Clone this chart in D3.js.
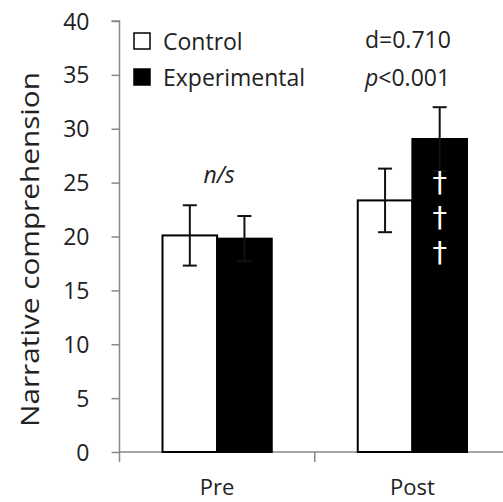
<!DOCTYPE html>
<html>
<head>
<meta charset="utf-8">
<script src="https://cdn.jsdelivr.net/npm/d3@7"></script>
<style>
  html, body { margin: 0; padding: 0; background: #fff; }
  svg { display: block; }
  text { font-family: "Open Sans", "Noto Sans", sans-serif; fill: #222; }
</style>
</head>
<body>
<svg id="chart" width="503" height="502"></svg>
<script>
const categories = ["Pre", "Post"];
const series = ["Control", "Experimental"];
const controlValues = [20.1, 23.35];
const experimentalValues = [19.8, 29.05];
const controlErrors = [2.8, 2.95];
const experimentalErrors = [2.1, 2.95];
const yTicks = [0, 5, 10, 15, 20, 25, 30, 35, 40];
const yTitle = "Narrative comprehension";
const nsLabel = "n/s";
const effectLabel = "d=0.710";
const pPrefix = "p";
const pRest = "<0.001";
const daggers = ["†", "†", "†"];

const data = categories.map((c, i) => ({
  category: c,
  values: [
    { series: series[0], value: controlValues[i], err: controlErrors[i] },
    { series: series[1], value: experimentalValues[i], err: experimentalErrors[i] }
  ]
}));

const svg = d3.select("#chart");
const axisX = 119.5, axisY = 452;

const y = d3.scaleLinear().domain([0, 40]).range([axisY, 21]);
const x0 = d3.scaleBand().domain(categories).range([axisX, 510]).paddingInner(0).paddingOuter(0);
const groupPad = 43;
const x1 = d3.scaleBand().domain(series).range([0, x0.bandwidth() - 2 * groupPad]).padding(0);
const fill = d3.scaleOrdinal().domain(series).range(["#ffffff", "#000000"]);

// Y axis
const yAxis = d3.axisLeft(y).tickValues(yTicks).tickSize(8).tickPadding(0).tickFormat(d3.format("d"));
const gy = svg.append("g").attr("transform", `translate(${axisX},0)`).call(yAxis);
gy.select(".domain").attr("stroke", "#888").attr("stroke-width", 1.5).attr("d", `M-8,${y(40)}H0V${axisY}`);
gy.selectAll(".tick line").attr("stroke", "#888").attr("stroke-width", 1.5);
gy.selectAll(".tick text")
  .attr("x", -30).attr("dy", "0.35em")
  .style("font-size", "23px").style("font-family", "'Open Sans', sans-serif").attr("fill", "#222");

// X axis
const gx = svg.append("g").attr("transform", `translate(0,${axisY})`);
gx.append("line").attr("x1", axisX).attr("x2", 503).attr("y1", 0).attr("y2", 0)
  .attr("stroke", "#888").attr("stroke-width", 1.5);
const boundaries = [x0.range()[0], ...categories.slice(1).map(c => x0(c))];
gx.selectAll(".xtick").data(boundaries).join("line")
  .attr("x1", d => d).attr("x2", d => d).attr("y1", 0).attr("y2", 10)
  .attr("stroke", "#888").attr("stroke-width", 1.5);
gx.selectAll(".xlabel").data(categories).join("text")
  .attr("x", d => x0(d) + x0.bandwidth() / 2)
  .attr("y", 43)
  .attr("text-anchor", "middle")
  .style("font-size", "22px")
  .text(d => d);

// Bars
const groups = svg.append("g").selectAll("g").data(data).join("g")
  .attr("transform", d => `translate(${x0(d.category) + groupPad},0)`);

groups.selectAll("rect").data(d => d.values).join("rect")
  .attr("x", d => x1(d.series))
  .attr("y", d => y(d.value))
  .attr("width", x1.bandwidth())
  .attr("height", d => y(0) - y(d.value))
  .attr("fill", d => fill(d.series))
  .attr("stroke", "#000")
  .attr("stroke-width", 2);

// Error bars
const eb = groups.selectAll("g.eb").data(d => d.values).join("g").attr("class", "eb")
  .attr("transform", d => `translate(${x1(d.series) + x1.bandwidth() / 2},0)`);
eb.append("line").attr("x1", 0).attr("x2", 0)
  .attr("y1", d => y(d.value + d.err)).attr("y2", d => y(d.value - d.err))
  .attr("stroke", "#111").attr("stroke-width", 2);
eb.append("line").attr("x1", -7).attr("x2", 7)
  .attr("y1", d => y(d.value + d.err)).attr("y2", d => y(d.value + d.err))
  .attr("stroke", "#111").attr("stroke-width", 2);
eb.append("line").attr("x1", -7).attr("x2", 7)
  .attr("y1", d => y(d.value - d.err)).attr("y2", d => y(d.value - d.err))
  .attr("stroke", "#111").attr("stroke-width", 2);

// n/s label over Pre
svg.append("text")
  .attr("x", x0("Pre") + x0.bandwidth() / 2 + 2)
  .attr("y", 183)
  .attr("text-anchor", "middle")
  .style("font-size", "23px").style("font-style", "italic")
  .text(nsLabel);

// Daggers on Post experimental bar
const dagX = x0("Post") + groupPad + x1("Experimental") + x1.bandwidth() / 2;
svg.append("g").selectAll("text").data(daggers).join("text")
  .attr("x", dagX)
  .attr("y", (d, i) => 192 + i * 35)
  .attr("text-anchor", "middle")
  .style("font-family", "'DejaVu Sans', sans-serif")
  .style("font-size", "29px")
  .style("fill", "#fff")
  .text(d => d);

// Legend
const legend = svg.append("g");
const legItems = legend.selectAll("g").data(series).join("g")
  .attr("transform", (d, i) => `translate(134,${33 + i * 36})`);
legItems.append("rect").attr("x", 0).attr("y", 0).attr("width", 16).attr("height", 16)
  .attr("fill", d => fill(d)).attr("stroke", "#000").attr("stroke-width", 1.5);
legItems.append("text").attr("x", 29).attr("y", 17)
  .style("font-size", "23px").text(d => d);

// Stats
svg.append("text").attr("x", 365).attr("y", 48).style("font-size", "23px").text(effectLabel);
const pt = svg.append("text").attr("x", 365).attr("y", 86).style("font-size", "23px");
pt.append("tspan").style("font-style", "italic").text(pPrefix);
pt.append("tspan").text(pRest);

// Y title
svg.append("text")
  .attr("transform", `translate(39,249.5) rotate(-90)`)
  .attr("text-anchor", "middle")
  .style("font-size", "26px")
  .attr("textLength", 355)
  .attr("lengthAdjust", "spacingAndGlyphs")
  .text(yTitle);
</script>
</body>
</html>
